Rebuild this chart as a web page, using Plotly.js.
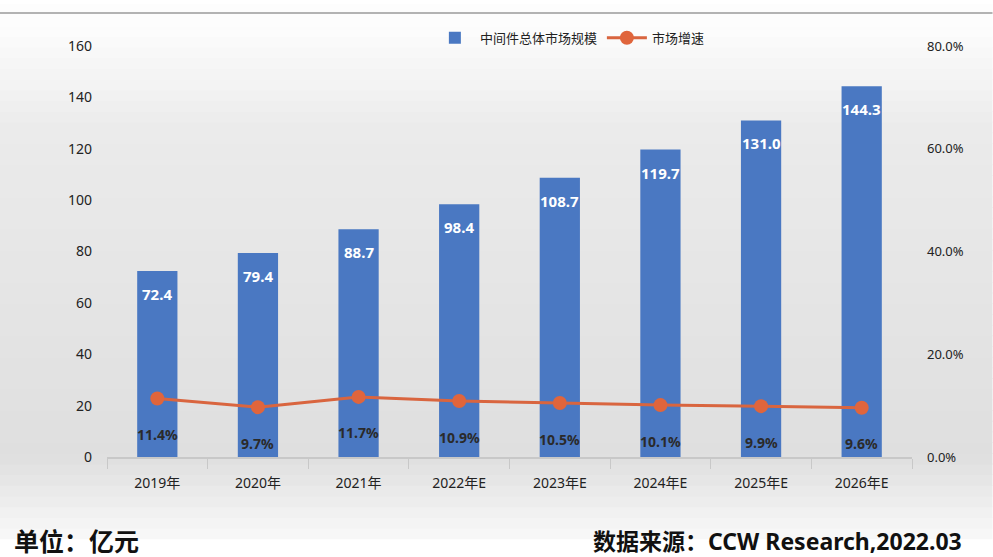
<!DOCTYPE html>
<html><head><meta charset="utf-8">
<script src="https://cdn.plot.ly/plotly-3.0.1.min.js"></script>
<style>html,body{margin:0;padding:0;background:#fff;}</style>
</head><body>
<div id="chart" style="width:993px;height:557px;"></div>
<script>
const categories = ['2019年','2020年','2021年','2022年E','2023年E','2024年E','2025年E','2026年E'];
const marketSize = [72.4, 79.4, 88.7, 98.4, 108.7, 119.7, 131.0, 144.3];
const growthRate = [11.4, 9.7, 11.7, 10.9, 10.5, 10.1, 9.9, 9.6];
const sizeLabels = ['72.4','79.4','88.7','98.4','108.7','119.7','131.0','144.3'];
const growthLabels = ['11.4%','9.7%','11.7%','10.9%','10.5%','10.1%','9.9%','9.6%'];

const FONT = '"Noto Sans", "Noto Sans CJK SC", sans-serif';

// background vertical gradient (white at top -> grey in the middle/lower part -> lighter below axis)
const shapes = [];
const bands = 50;
const y0p = -0.2, y1p = 1.1;
for (let i = 0; i < bands; i++) {
  const t = (i + 0.5) / bands;
  const yy = y0p + t * (y1p - y0p);
  let d;
  if (yy > 0.8) d = Math.max(0, (1.05 - yy) / 0.25) * 18;
  else if (yy > 0.0) d = 18 + (0.8 - yy) / 0.8 * 12;
  else d = Math.max(0, 30 + yy / 0.2 * 26);
  const g = Math.round(253 - d);
  shapes.push({type:'rect', xref:'paper', yref:'paper', layer:'below',
    x0:-0.14, x1:1.1,
    y0: y0p + i / bands * (y1p - y0p), y1: y0p + (i + 1) / bands * (y1p - y0p) + 0.002,
    fillcolor:`rgb(${g},${g},${g})`, line:{width:0}});
}
shapes.push({type:'line', xref:'paper', yref:'paper', x0:-0.14, x1:1.1, y0:1.08, y1:1.08,
  line:{color:'#9a9a9a', width:1.5}});

const annotations = [];
categories.forEach((c, i) => {
  annotations.push({x: c, y: growthRate[i], xref:'x', yref:'y2', yshift:-36,
    text: growthLabels[i], showarrow:false,
    font:{family:FONT, size:14, color:'#2a2a2a', weight:'bold'}});
  annotations.push({x: c, y: marketSize[i], xref:'x', yref:'y', yshift:-23,
    text: sizeLabels[i], showarrow:false,
    font:{family:FONT, size:15, color:'#ffffff', weight:'bold'}});
});
annotations.push({xref:'paper', yref:'paper', x:-0.118, y:-0.205, xanchor:'left', yanchor:'middle',
  text:'单位：亿元', showarrow:false, font:{family:FONT, size:25, color:'#111', weight:'bold'}});
annotations.push({xref:'paper', yref:'paper', x:1.065, y:-0.205, xanchor:'right', yanchor:'middle',
  text:'数据来源：CCW Research,2022.03', showarrow:false, font:{family:FONT, size:23, color:'#111', weight:'bold'}});

const data = [
  {type:'bar', name:'中间件总体市场规模', x:categories, y:marketSize,
   marker:{color:'#4a78c2'}, hoverinfo:'x+y'},
  {type:'scatter', mode:'lines+markers', name:'市场增速', x:categories, y:growthRate, yaxis:'y2',
   line:{color:'#d9653f', width:3}, marker:{color:'#e0653c', size:14}}
];

const layout = {
  width:993, height:557,
  margin:{l:107, r:81, t:46, b:100},
  paper_bgcolor:'#ffffff', plot_bgcolor:'rgba(0,0,0,0)',
  font:{family:FONT, color:'#333'},
  bargap:0.6,
  showlegend:true,
  legend:{orientation:'h', x:0.575, xanchor:'center', y:1.02, yanchor:'middle',
    font:{family:FONT, size:13, color:'#222'}, bgcolor:'rgba(0,0,0,0)', itemwidth:40},
  xaxis:{type:'category', showgrid:false, showline:true, linecolor:'#c8c8c8', linewidth:2,
    ticks:'outside', tickson:'boundaries', ticklen:10, tickcolor:'#c8c8c8',
    tickfont:{family:FONT, size:14, color:'#222'}, ticklabelstandoff:12},
  yaxis:{range:[0,160], dtick:20, showgrid:false, zeroline:false, showline:false,
    tickfont:{family:FONT, size:14, color:'#222'}, ticklabelstandoff:14},
  yaxis2:{range:[0,80], dtick:20, overlaying:'y', side:'right', showgrid:false, zeroline:false,
    ticksuffix:'%', tickformat:'.1f', tickfont:{family:FONT, size:13, color:'#222'}, ticklabelstandoff:14},
  shapes:shapes,
  annotations:annotations
};

Plotly.newPlot('chart', data, layout, {displayModeBar:false, staticPlot:true});
</script>
</body></html>
